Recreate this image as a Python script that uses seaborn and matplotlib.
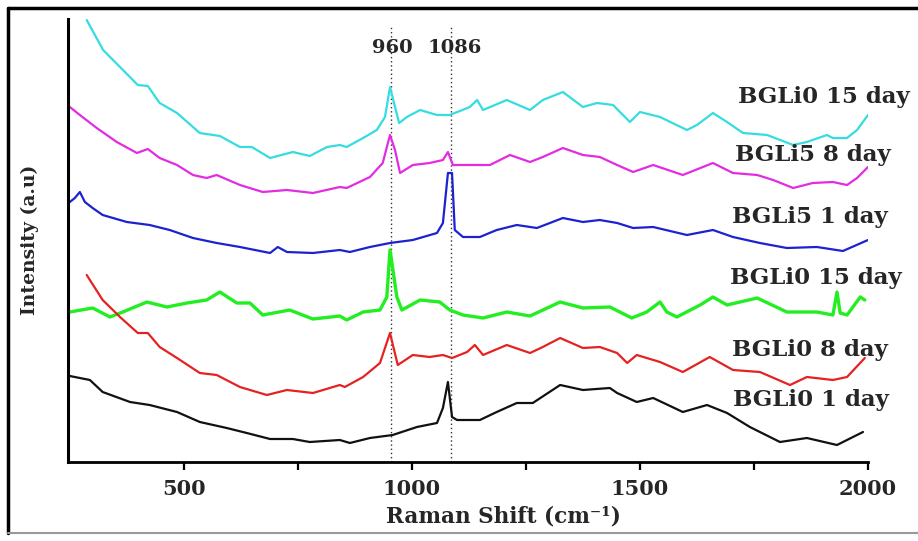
import numpy as np
import pandas as pd
import matplotlib
matplotlib.use("Agg")
import matplotlib.pyplot as plt
from matplotlib.lines import Line2D
import seaborn as sns

# ---------------- data ----------------
cyan_x = [287, 323, 360, 399, 421, 447, 485, 535, 579, 623, 649, 689, 739, 776, 814, 842, 857, 893, 923, 941,
          952, 963, 972, 989, 1018, 1055, 1083, 1127, 1143, 1156, 1208, 1259, 1287, 1331, 1375, 1406, 1441, 1478,
          1500, 1544, 1603, 1625, 1660, 1691, 1726, 1779, 1836, 1866, 1910, 1923, 1954, 1976, 2000]
cyan_y = [442, 412, 395, 377, 376, 359, 349, 329, 326, 315, 315, 304, 310, 306, 315, 317, 315, 324, 332, 345,
          375, 355, 339, 345, 352, 347, 347, 355, 362, 352, 362, 352, 362, 370, 355, 359, 357, 340,
          350, 345, 332, 337, 349, 340, 329, 327, 317, 320, 327, 324, 324, 332, 347]

magenta_x = [250, 272, 309, 353, 397, 421, 447, 485, 520, 550, 572, 623, 673, 726, 783, 842, 857, 908, 936, 952,
             963, 974, 1002, 1039, 1068, 1079, 1090, 1127, 1171, 1215, 1259, 1287, 1331, 1375, 1412, 1450, 1485,
             1529, 1594, 1660, 1704, 1757, 1792, 1836, 1879, 1923, 1954, 1976, 2000]
magenta_y = [355, 347, 334, 320, 309, 313, 304, 297, 287, 284, 287, 277, 270, 272, 269, 275, 274, 285, 299, 327,
             312, 289, 297, 299, 302, 310, 297, 297, 297, 307, 300, 305, 314, 307, 305, 297, 290,
             297, 287, 299, 289, 287, 282, 274, 279, 280, 277, 284, 295]

blue_x = [250, 261, 272, 283, 300, 322, 375, 425, 469, 520, 572, 623, 689, 706, 726, 783, 842, 864, 908, 952,
          1002, 1055, 1068, 1079, 1088, 1094, 1112, 1149, 1186, 1230, 1274, 1331, 1375, 1412, 1450, 1485, 1529,
          1603, 1660, 1704, 1763, 1822, 1888, 1945, 2000]
blue_y = [260, 264, 270, 260, 254, 247, 240, 237, 232, 224, 219, 215, 209, 215, 210, 209, 212, 210, 215, 219,
          222, 229, 239, 289, 289, 232, 225, 225, 232, 237, 234, 244, 240, 242, 239, 234, 235,
          227, 232, 225, 219, 214, 215, 211, 222]

green_x = [250, 300, 338, 366, 419, 463, 507, 550, 579, 616, 645, 673, 732, 783, 842, 857, 893, 930, 945, 952,
           967, 978, 1018, 1061, 1083, 1112, 1156, 1208, 1259, 1325, 1375, 1434, 1482, 1515, 1544, 1559, 1581,
           1632, 1660, 1691, 1757, 1822, 1888, 1923, 1932, 1939, 1954, 1983, 1993]
green_y = [150, 154, 145, 150, 160, 155, 159, 162, 170, 159, 159, 147, 152, 143, 146, 142, 150, 152, 165, 212,
           165, 152, 162, 160, 152, 147, 144, 150, 146, 160, 154, 155, 144, 150, 160, 150, 145,
           157, 165, 157, 164, 150, 150, 147, 170, 149, 147, 165, 162]

red_x = [287, 322, 360, 399, 421, 447, 485, 535, 572, 623, 682, 726, 783, 842, 853, 893, 930, 952, 969, 1002,
         1039, 1068, 1088, 1121, 1138, 1156, 1208, 1259, 1287, 1325, 1375, 1412, 1450, 1472, 1493, 1544, 1594,
         1653, 1704, 1763, 1829, 1866, 1923, 1954, 1993]
red_y = [187, 162, 145, 129, 129, 115, 104, 89, 87, 75, 67, 72, 69, 77, 75, 85, 99, 129, 97, 107,
         105, 107, 104, 110, 117, 107, 117, 109, 115, 124, 114, 115, 109, 99, 107, 100, 90,
         105, 92, 90, 77, 85, 82, 85, 104]

black_x = [250, 294, 322, 382, 425, 485, 535, 594, 638, 689, 739, 776, 842, 864, 908, 958, 1011, 1055, 1068, 1079,
           1088, 1099, 1149, 1186, 1230, 1265, 1325, 1375, 1434, 1450, 1493, 1529, 1594, 1647, 1691, 1741, 1807,
           1866, 1932, 1989]
black_y = [86, 82, 70, 60, 57, 50, 40, 34, 29, 23, 23, 20, 22, 19, 24, 27, 35, 39, 54, 80,
           45, 42, 42, 50, 59, 59, 77, 72, 74, 69, 60, 64, 50, 57, 49, 35, 20,
           24, 17, 30]

curve_labels = ["BGLi0 15 day", "BGLi5 8 day", "BGLi5 1 day", "BGLi0 15 day", "BGLi0 8 day", "BGLi0 1 day"]
peak_positions = [955, 1086]
peak_labels = ["960", "1086"]
x_ticks = [500, 1000, 1500, 2000]
x_minor_ticks = [750, 1250, 1750]

# ---------------- styling ----------------
sns.set_theme(style="white")
plt.rcParams["font.family"] = ["DejaVu Serif"]
plt.rcParams["font.weight"] = "bold"

W, H = 918, 541
fig = plt.figure(figsize=(W / 100, H / 100), dpi=100)
ax = fig.add_axes([68 / W, (H - 462) / H, 800 / W, (462 - 19) / H])

series = [
    ("c0", cyan_x, cyan_y, "#35DCE0", 1.6),
    ("c1", magenta_x, magenta_y, "#E22CE2", 1.6),
    ("c2", blue_x, blue_y, "#1C22D0", 1.6),
    ("c3", green_x, green_y, "#22EE22", 2.4),
    ("c4", red_x, red_y, "#E42222", 1.6),
    ("c5", black_x, black_y, "#111111", 1.6),
]
for key, xs, ys, col, lw in series:
    df = pd.DataFrame({"Raman Shift": xs, "Intensity": ys})
    sns.lineplot(data=df, x="Raman Shift", y="Intensity", ax=ax, color=col,
                 linewidth=lw, estimator=None, sort=False)

for p in peak_positions:
    ax.vlines(p, 0, 436, colors="#333333", linestyles=(0, (1, 2)), linewidth=1.0, zorder=0)

ax.set_xlim(246, 2000)
ax.set_ylim(0, 443)
ax.set_xticks(x_ticks)
ax.set_xticks(x_minor_ticks, minor=True)
ax.set_yticks([])
ax.set_xlabel("")
ax.set_ylabel("")
for s in ["top", "right"]:
    ax.spines[s].set_visible(False)
ax.spines["left"].set_linewidth(2.2)
ax.spines["bottom"].set_linewidth(2.0)
ax.spines["left"].set_color("black")
ax.spines["bottom"].set_color("black")
ax.tick_params(axis="x", which="both", direction="out", length=6, width=1.6, color="black",
               bottom=True, labelsize=15, pad=6)
for t in ax.get_xticklabels():
    t.set_fontweight("bold")

def ftext(px, py, s, **kw):
    fig.text(px / W, 1 - py / H, s, **kw)

# peak labels
ftext(392, 48, peak_labels[0], ha="center", va="center", fontsize=14, fontweight="bold")
ftext(455, 48, peak_labels[1], ha="center", va="center", fontsize=14, fontweight="bold")

# curve labels
label_pos = [(738, 97), (735, 155), (732, 217), (730, 278), (732, 350), (733, 400)]
for (px, py), lab in zip(label_pos, curve_labels):
    ftext(px, py, lab, ha="left", va="center", fontsize=16.5, fontweight="bold")

# axis labels
ftext(503, 516, "Raman Shift (cm\u207b\u00b9)", ha="center", va="center", fontsize=15.5, fontweight="bold")
ftext(30, 240, "Intensity (a.u)", ha="center", va="center", rotation=90, fontsize=13.5, fontweight="bold")

# outer frame
fig.add_artist(Line2D([8 / W, 1.0], [1 - 8 / H, 1 - 8 / H], transform=fig.transFigure, color="black", lw=2.5))
fig.add_artist(Line2D([8 / W, 8 / W], [1 - 8 / H, 1 - 533 / H], transform=fig.transFigure, color="black", lw=2.5))
fig.add_artist(Line2D([8 / W, 1.0], [1 - 533 / H, 1 - 533 / H], transform=fig.transFigure, color="#999999", lw=1.5))

fig.savefig("out.png", dpi=100)
